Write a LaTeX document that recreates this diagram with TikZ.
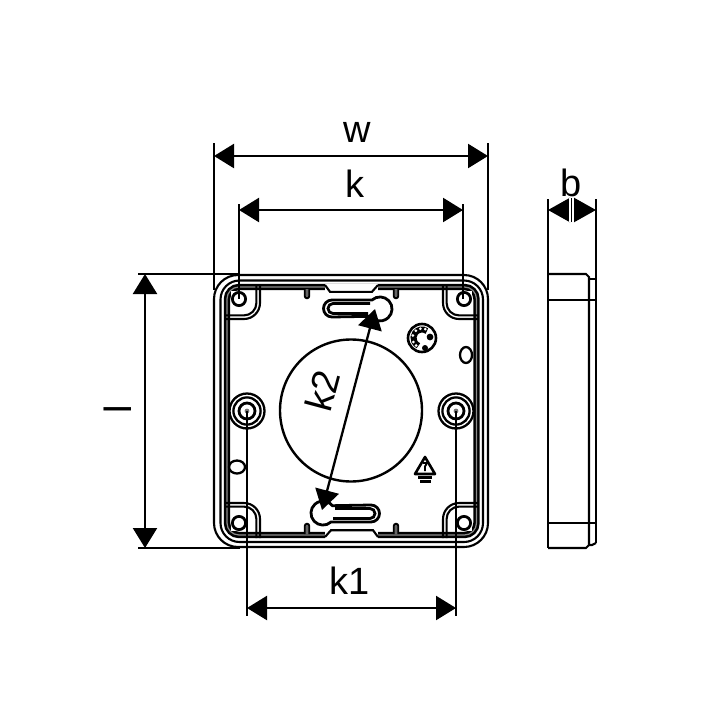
\documentclass[tikz,border=0pt]{standalone}
\usepackage{fontspec}
\setmainfont{Liberation Sans}
\usetikzlibrary{arrows.meta}
\tikzset{
  dimline/.style={line width=2.3pt,{Triangle[length=20pt,width=24pt]}-{Triangle[length=20pt,width=24pt]}},
  extline/.style={line width=2.3pt},
  boxline/.style={line width=2.1pt,black},
  heavy/.style={line width=2.8pt,black},
  dimlabel/.style={font=\fontsize{38}{38}\selectfont,inner sep=0pt,anchor=center}
}
\newcommand{\keyholeshape}{%
  \draw[heavy,fill=white] (332,300) -- (372,300) arc[start angle=228,end angle=502,radius=12]
     -- (332,317) arc[start angle=90,end angle=270,radius=8.5] -- cycle;
  \draw[line width=2.8pt] (370,303.5) -- (333,303.5) arc[start angle=270,end angle=90,radius=5] -- (368,313.5);
  % tab in the rim
  \fill[white] (325,283.5) rectangle (378,291);
  \draw[boxline,fill=white] (325,285) -- (330,291.8) -- (372,291.8) -- (378,285);
}
\begin{document}
\begin{tikzpicture}[x=1pt,y=-1pt]
\useasboundingbox (0,0) rectangle (720,720);
\fill[white] (0,0) rectangle (720,720);

% named points for dimension lines
\coordinate (wL) at (214,156); \coordinate (wR) at (488,156);
\coordinate (wLt) at (214,143); \coordinate (wRt) at (488,143);
\coordinate (wLb) at (214,290); \coordinate (wRb) at (488,290);
\coordinate (kL) at (239,210); \coordinate (kR) at (463,210);
\coordinate (kLt) at (239,204); \coordinate (kRt) at (463,204);
\coordinate (kLb) at (239,299); \coordinate (kRb) at (463,299);
\coordinate (lT) at (145,274); \coordinate (lB) at (145,548);
\coordinate (lTl) at (138,274); \coordinate (lBl) at (138,548);
\coordinate (lTr) at (240,274); \coordinate (lBr) at (240,548);
\coordinate (k1L) at (247,608); \coordinate (k1R) at (456,608);
\coordinate (k1Lt) at (247,411); \coordinate (k1Rt) at (456,411);
\coordinate (k1Lb) at (247,616); \coordinate (k1Rb) at (456,616);
\coordinate (k2T) at (375,309); \coordinate (k2B) at (322,510);
\coordinate (bL) at (548,210); \coordinate (bR) at (596,210);

% body rims
\draw[boxline,rounded corners=24pt] (214,275) rectangle (488,547);
\draw[boxline,rounded corners=19pt] (220.5,280.5) rectangle (483,542);
\draw[line width=6.4pt,black,rounded corners=12pt] (227,287) rectangle (476.5,535);
\draw[line width=1.2pt,black!45,rounded corners=12pt] (227,287) rectangle (476.5,535);

% corner pockets
\foreach \sx/\sy/\ox/\oy in {1/1/0/0,-1/1/703/0,1/-1/0/822,-1/-1/703/822}{
  \begin{scope}[shift={(\ox,\oy)},xscale=\sx,yscale=\sy]
    \fill[white] (231,291) rectangle (255,314);
    \draw[boxline] (260,284) -- (260,303) arc[start angle=0,end angle=90,radius=16] -- (225,319);
    \draw[boxline] (256.4,284) -- (256.4,303) arc[start angle=0,end angle=90,radius=12.4] -- (225,315.4);
    \draw[line width=2.8pt,fill=white] (239,299) circle[radius=6.6];
  \end{scope}
}

% posts on rim
\foreach \x in {307,396}{
  \draw[line width=1.8pt,fill=black!60] (\x-2.3,289) -- (\x-2.3,296) arc[start angle=180,end angle=0,radius=2.3] -- (\x+2.3,289);
  \draw[line width=1.8pt,fill=black!60] (\x-2.3,534) -- (\x-2.3,526) arc[start angle=180,end angle=360,radius=2.3] -- (\x+2.3,534);
}

% large circle
\draw[line width=2.4pt] (351,410.5) circle[radius=71];

% keyholes
\keyholeshape
\begin{scope}[rotate around={180:(351.5,411)}]
  \keyholeshape
\end{scope}

% bosses
\foreach \x in {247,456}{
  \draw[line width=2.3pt,fill=white] (\x,411) circle[radius=17.5];
  \draw[line width=2.3pt] (\x,411) circle[radius=13.6];
  \draw[line width=2.8pt] (\x,411) circle[radius=8];
  \fill[black!55] (\x,411) circle[radius=2.4];
}

% small ovals
\draw[line width=2.3pt] (466,355) ellipse[x radius=6,y radius=8];
\draw[line width=2.3pt] (237,467) ellipse[x radius=8,y radius=6.5];

% round badge
\draw[line width=2.6pt] (422,338) circle[radius=14];
\draw[line width=6pt] (422,338) ++(-55:8.5) arc[start angle=-55,end angle=-245,radius=8.5];
\foreach \a in {-70,-100,-130,-165,-205,-232}{\fill[white] (422,338) ++(\a:9.5) circle[radius=1.5];}
\fill[black] (430,337) circle[radius=3.4];
\fill[black] (425,348) circle[radius=3];
\fill[white] (423,339) circle[radius=4.2];

% warning triangle
\draw[line width=2.6pt,line join=round,fill=white] (425,457) -- (435,474) -- (415,474) -- cycle;
\draw[line width=1.9pt] (423,463) -- (427,463) -- (425,466.5) -- (425,471);
\fill[black] (418,476) rectangle (432,479);
\fill[black] (420,479.8) rectangle (431,483);

% dimension extension lines
\draw[extline] (wLt) -- (wLb);
\draw[extline] (wRt) -- (wRb);
\draw[extline] (kLt) -- (kLb);
\draw[extline] (kRt) -- (kRb);
\draw[extline] (lTl) -- (lTr);
\draw[extline] (lBl) -- (lBr);
\draw[extline] (k1Lt) -- (k1Lb);
\draw[extline] (k1Rt) -- (k1Rb);

% dimension lines
\draw[dimline] (wL) -- (wR);
\draw[dimline] (kL) -- (kR);
\draw[dimline] (lT) -- (lB);
\draw[dimline] (k1L) -- (k1R);
\draw[dimline] (k2T) -- (k2B);

% side view
\coordinate (sTL) at (548,199); \coordinate (sBL) at (548,548);
\coordinate (sTR) at (596,199); \coordinate (sBR) at (596,543);
\draw[extline] (sTL) -- (sBL);
\draw[extline] (sTR) -- (sBR);
\draw[boxline] (548,274) -- (586,274) -- (589,277) -- (589,545) -- (586,548) -- (548,548);
\draw[boxline] (589,279) -- (596,279);
\draw[boxline] (596,543) -- (592,545) -- (589,545);
\draw[boxline] (548,300) -- (596,300);
\draw[boxline] (548,523) -- (596,523);
\draw[line width=2.3pt,{Triangle[length=22pt,width=24pt]}-{Triangle[length=22pt,width=24pt]}] (bL) -- (bR);
\coordinate (bTop) at (571.5,198); \coordinate (bBot) at (571.5,222);
\draw[white,line width=4.4pt] (bTop) -- (bBot);
\draw[line width=1.7pt] (bTop) -- (bBot);

% labels
\node[dimlabel] (lw) at (357,132) {w};
\node[dimlabel] (lk) at (355,184) {k};
\node[dimlabel] (ll) at (118,409) [rotate=90] {l};
\node[dimlabel] (lk1) at (350,581) {k1};
\node[dimlabel] (lk2) at (322,391) [rotate=75] {k2};
\node[dimlabel] (lb) at (571,183) {b};
\end{tikzpicture}
\end{document}
